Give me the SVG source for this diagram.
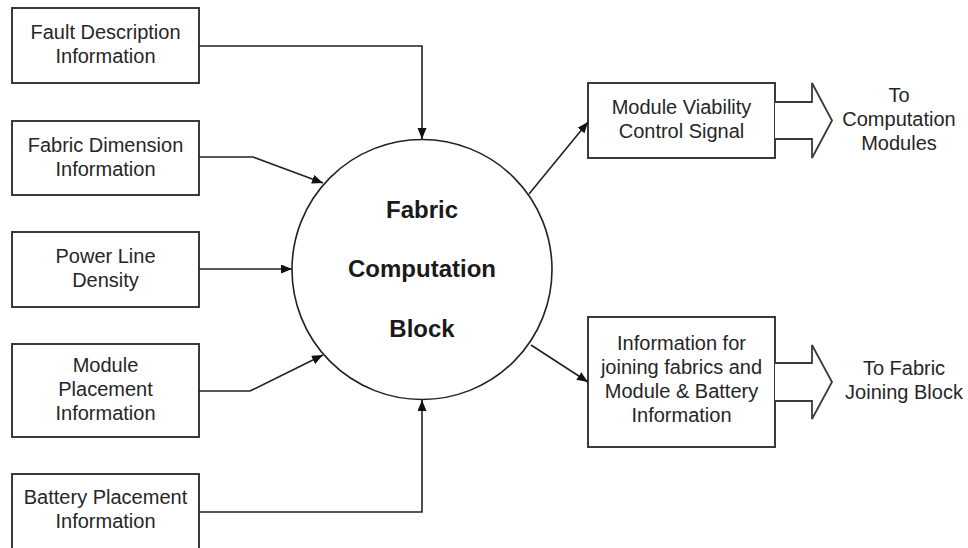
<svg xmlns="http://www.w3.org/2000/svg" width="968" height="548" viewBox="0 0 968 548">
  <style>
    .box { fill: #ffffff; stroke: #3a3a3a; stroke-width: 2; }
    .lbl { font-family: "Liberation Sans", Arial, sans-serif; font-size: 20px; fill: #262626; text-anchor: middle; }
    .core { font-family: "Liberation Sans", Arial, sans-serif; font-size: 24px; font-weight: bold; fill: #1a1a1a; text-anchor: middle; }
    .wire { fill: none; stroke: #222222; stroke-width: 1.6; marker-end: url(#head); }
    .fat { fill: #ffffff; stroke: #3a3a3a; stroke-width: 1.8; stroke-linejoin: miter; }
  </style>
  <defs>
    <marker id="head" markerUnits="userSpaceOnUse" markerWidth="12" markerHeight="10" refX="11" refY="4.5" orient="auto">
      <path d="M0,0 L11,4.5 L0,9 z" fill="#111111"/>
    </marker>
  </defs>
  <rect width="968" height="548" fill="#ffffff"/>

  <!-- input nodes -->
  <g id="fault-description">
    <rect class="box" x="12" y="8" width="187" height="75"/>
    <text class="lbl" x="105.5" y="39">Fault Description</text>
    <text class="lbl" x="105.5" y="63">Information</text>
  </g>
  <g id="fabric-dimension">
    <rect class="box" x="12" y="121" width="187" height="74"/>
    <text class="lbl" x="105.5" y="152">Fabric Dimension</text>
    <text class="lbl" x="105.5" y="176">Information</text>
  </g>
  <g id="power-line-density">
    <rect class="box" x="12" y="232" width="187" height="75"/>
    <text class="lbl" x="105.5" y="263">Power Line</text>
    <text class="lbl" x="105.5" y="287">Density</text>
  </g>
  <g id="module-placement">
    <rect class="box" x="12" y="344" width="187" height="93"/>
    <text class="lbl" x="105.5" y="372">Module</text>
    <text class="lbl" x="105.5" y="396">Placement</text>
    <text class="lbl" x="105.5" y="420">Information</text>
  </g>
  <g id="battery-placement">
    <rect class="box" x="12" y="474" width="187" height="80"/>
    <text class="lbl" x="105.5" y="504">Battery Placement</text>
    <text class="lbl" x="105.5" y="528">Information</text>
  </g>

  <!-- central process -->
  <g id="fabric-computation-block">
    <circle cx="422" cy="269.5" r="130" fill="#ffffff" stroke="#222222" stroke-width="1.6"/>
    <text class="core" x="422" y="218">Fabric</text>
    <text class="core" x="422" y="277">Computation</text>
    <text class="core" x="422" y="337">Block</text>
  </g>

  <!-- output nodes -->
  <g id="module-viability">
    <rect class="box" x="588" y="83" width="187" height="75"/>
    <text class="lbl" x="681.5" y="114">Module Viability</text>
    <text class="lbl" x="681.5" y="138">Control Signal</text>
  </g>
  <g id="joining-information">
    <rect class="box" x="588" y="317" width="187" height="130"/>
    <text class="lbl" x="681.5" y="350">Information for</text>
    <text class="lbl" x="681.5" y="374">joining fabrics and</text>
    <text class="lbl" x="681.5" y="398">Module &amp; Battery</text>
    <text class="lbl" x="681.5" y="422">Information</text>
  </g>

  <!-- destinations -->
  <g id="to-computation-modules">
    <path class="fat" d="M775,102 L812,102 L812,83 L832,120.5 L812,158 L812,139 L775,139"/>
    <text class="lbl" x="899" y="102">To</text>
    <text class="lbl" x="899" y="126">Computation</text>
    <text class="lbl" x="899" y="150">Modules</text>
  </g>
  <g id="to-fabric-joining-block">
    <path class="fat" d="M775,363 L812,363 L812,345 L832,382 L812,419 L812,401 L775,401"/>
    <text class="lbl" x="904" y="375">To Fabric</text>
    <text class="lbl" x="904" y="399">Joining Block</text>
  </g>

  <!-- connectors -->
  <g id="connectors">
    <path class="wire" d="M199,46 L422,46 L422,139"/>
    <path class="wire" d="M199,157 L253,157 L323,183"/>
    <path class="wire" d="M199,269 L292,269"/>
    <path class="wire" d="M199,391 L250,391 L323,355"/>
    <path class="wire" d="M199,512 L422,512 L422,400"/>
    <path class="wire" d="M529,194 L588,122"/>
    <path class="wire" d="M531,345 L588,382"/>
  </g>
</svg>
